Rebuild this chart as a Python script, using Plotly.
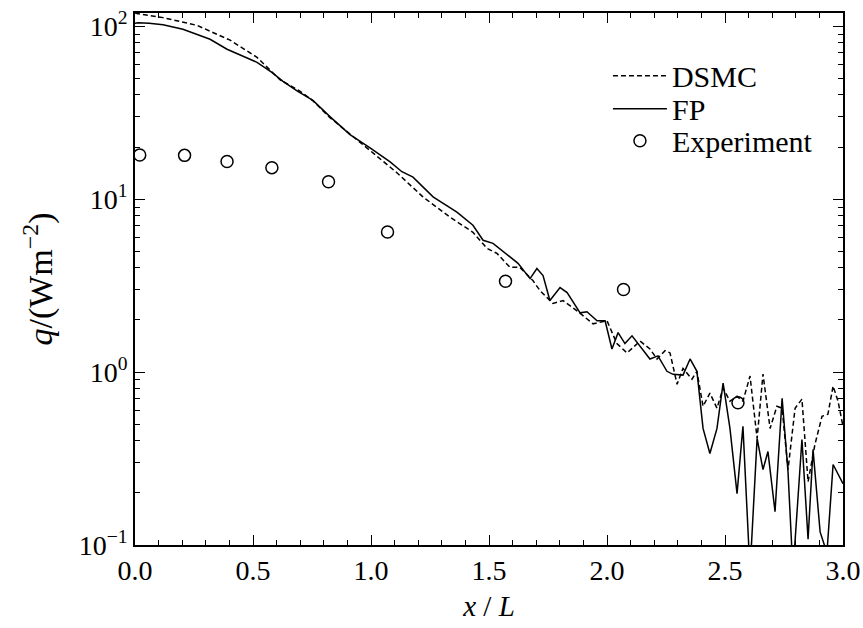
import plotly.graph_objects as go

# FP (solid) curve
fp_x = [0.0, 0.013, 0.06, 0.119, 0.203, 0.275, 0.318, 0.390, 0.45, 0.517, 0.58, 0.627, 0.69, 0.754, 0.826,
        0.911, 0.996, 1.081, 1.131, 1.178, 1.263, 1.364, 1.432, 1.475, 1.517, 1.589, 1.623, 1.674, 1.703,
        1.729, 1.758, 1.801, 1.831, 1.886, 1.915, 1.958, 1.992, 2.021, 2.047, 2.076, 2.106, 2.182, 2.216,
        2.254, 2.280, 2.322, 2.352, 2.381, 2.407, 2.436, 2.466, 2.492, 2.521, 2.551, 2.576, 2.606, 2.636,
        2.661, 2.682, 2.712, 2.742, 2.767, 2.788, 2.826, 2.852, 2.873, 2.903, 2.932, 2.958, 3.0]
fp_y = [104, 104.5, 104, 102, 96, 88.7, 84, 73.5, 68, 61.8, 54, 47.9, 42, 37.2, 30.0,
        23.6, 19.8, 16.4, 14.4, 13.4, 10.3, 8.4, 7.06, 5.78, 5.55, 4.60, 4.25, 3.47, 3.97,
        3.61, 2.59, 3.08, 2.88, 2.20, 2.23, 1.98, 1.98, 1.36, 1.69, 1.46, 1.62, 1.19, 1.24,
        1.01, 0.97, 0.96, 1.19, 1.01, 0.472, 0.338, 0.472, 0.863, 0.472, 0.198, 0.485, 0.07, 0.413,
        0.273, 0.347, 0.156, 0.706, 0.265, 0.07, 0.407, 0.108, 0.356, 0.119, 0.09, 0.292, 0.226]

# DSMC (dashed) curve
dsmc_x = [0.0, 0.013, 0.119, 0.263, 0.403, 0.517, 0.614, 0.70, 0.754, 0.826, 1.008, 1.110, 1.220, 1.335,
          1.432, 1.492, 1.534, 1.589, 1.631, 1.686, 1.716, 1.771, 1.814, 1.873, 1.941, 2.000, 2.042,
          2.085, 2.140, 2.182, 2.212, 2.246, 2.267, 2.297, 2.322, 2.339, 2.360, 2.381, 2.407, 2.436,
          2.466, 2.492, 2.521, 2.551, 2.576, 2.606, 2.636, 2.661, 2.691, 2.720, 2.742, 2.767, 2.797,
          2.826, 2.852, 2.881, 2.911, 2.936, 2.958, 2.979, 3.0]
dsmc_y = [119, 118, 112, 101, 83, 66, 49, 42, 37, 29.6, 18.5, 14.2, 10.3, 7.86,
          6.43, 5.19, 4.85, 4.03, 4.03, 3.38, 2.96, 2.49, 2.59, 2.26, 1.90, 1.98, 1.46,
          1.29, 1.51, 1.36, 1.19, 1.33, 1.29, 0.85, 1.05, 0.99, 0.91, 1.01, 0.634, 0.755,
          0.618, 0.807, 0.678, 0.724, 0.678, 0.948, 0.413, 0.973, 0.472, 0.634, 0.618, 0.273, 0.618,
          0.697, 0.232, 0.381, 0.555, 0.570, 0.830, 0.678, 0.485]

# Experiment points
exp_x = [0.02, 0.21, 0.39, 0.58, 0.82, 1.07, 1.57, 2.07, 2.555]
exp_y = [18.0, 17.9, 16.5, 15.2, 12.6, 6.46, 3.35, 3.0, 0.664]

# Y tick labels
y_tickvals = [0.1, 1, 10, 100]
y_ticktext = ["10<sup>−1</sup>", "10<sup>0</sup>", "10<sup>1</sup>", "10<sup>2</sup>"]

FONT = "Liberation Serif"

fig = go.Figure()
fig.add_trace(go.Scatter(x=dsmc_x, y=dsmc_y, mode="lines", name="DSMC", legend="legend",
                         line=dict(color="black", width=1.5, dash="5px,3px")))
fig.add_trace(go.Scatter(x=fp_x, y=fp_y, mode="lines", name="FP", legend="legend2",
                         line=dict(color="black", width=1.5)))
fig.add_trace(go.Scatter(x=exp_x, y=exp_y, mode="markers", name="Experiment", legend="legend3",
                         marker=dict(symbol="circle-open", size=12, color="black",
                                     line=dict(width=1.5, color="black"))))

leg_common = dict(x=0.668, xanchor="left", yanchor="middle", bgcolor="rgba(0,0,0,0)",
                  font=dict(family=FONT, size=30, color="black"), itemwidth=54)

fig.update_layout(
    width=863, height=628,
    margin=dict(l=135, r=20, t=13, b=83),
    paper_bgcolor="white", plot_bgcolor="white",
    font=dict(family=FONT, size=28, color="black"),
    showlegend=True,
    legend=dict(y=0.882, **leg_common),
    legend2=dict(y=0.820, **leg_common),
    legend3=dict(y=0.760, **leg_common),
)
fig.update_xaxes(
    range=[0, 3], dtick=0.5, tick0=0, tickformat=".1f",
    ticks="inside", ticklen=10, tickwidth=1.3, tickcolor="black",
    showline=True, linecolor="black", linewidth=1.5, mirror="allticks",
    showgrid=False, zeroline=False, automargin=False, ticklabeloverflow="allow",
    minor=dict(dtick=0.1, ticks="inside", ticklen=5, tickwidth=1.3, tickcolor="black", showgrid=False),
    title=dict(text="<i>x</i> / <i>L</i>", font=dict(family=FONT, size=29), standoff=10),
    tickfont=dict(family=FONT, size=28),
)
fig.update_yaxes(
    type="log", range=[-1, 2.076], tickmode="array", tickvals=y_tickvals, ticktext=y_ticktext,
    ticks="inside", ticklen=10, tickwidth=1.3, tickcolor="black",
    showline=True, linecolor="black", linewidth=1.5, mirror="allticks",
    showgrid=False, zeroline=False, automargin=False, ticklabeloverflow="allow",
    minor=dict(dtick="D1", ticks="inside", ticklen=5, tickwidth=1.3, tickcolor="black", showgrid=False),
    title=dict(text="<i>q</i>/(Wm<sup>−2</sup>)", font=dict(family=FONT, size=34), standoff=16),
    tickfont=dict(family=FONT, size=28),
)

fig.write_html(
    "out.html",
    config={"displayModeBar": False},
    post_script="document.body.style.margin='0px';document.body.style.overflow='hidden';",
)
